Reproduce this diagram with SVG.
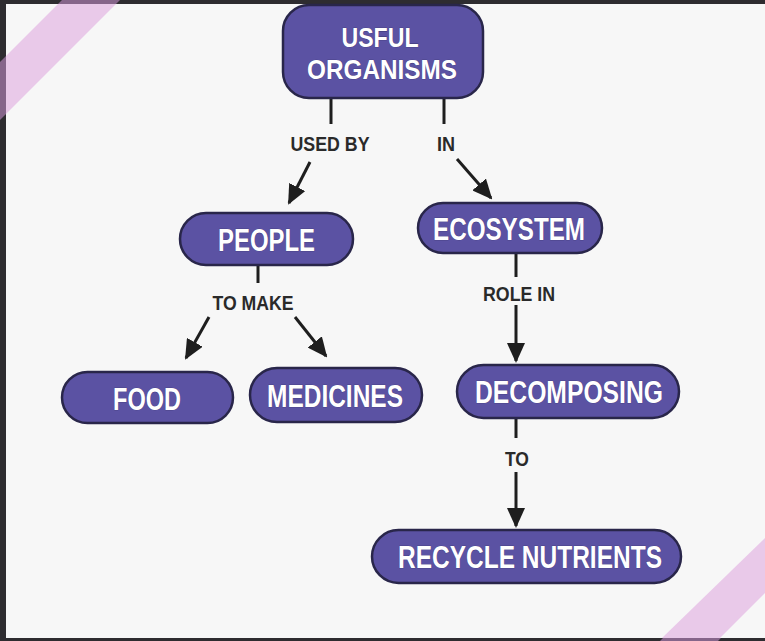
<svg xmlns="http://www.w3.org/2000/svg" width="765" height="641" viewBox="0 0 765 641">
<style>
.node rect{fill:#5b52a3;stroke:#29264a;stroke-width:2.5}
.node text{fill:#ffffff;font-family:"Liberation Sans",Arial,sans-serif;font-weight:bold;font-size:31px;text-anchor:middle;stroke:#3a3470;stroke-width:0.6;paint-order:stroke}
.node text.two{font-size:28px}
.lbl{fill:#2a2a2a;font-family:"Liberation Sans",Arial,sans-serif;font-weight:bold;font-size:21px;text-anchor:middle}
.conn line{stroke:#1e1e1e;stroke-width:3}
</style>
<defs>
<marker id="ah" markerUnits="userSpaceOnUse" markerWidth="20" markerHeight="18" viewBox="0 0 20 18" refX="18" refY="9" orient="auto">
<path d="M0,0 L20,9 L0,18 z" fill="#1e1e1e"/>
</marker>
</defs>
<rect x="0" y="0" width="765" height="641" fill="#2e2c30"/>
<polygon points="62,0 120,0 0,120 0,62" fill="#86658a"/>
<polygon points="765,535 765,593 718,641 660,641" fill="#86658a"/>
<rect x="6" y="4" width="759" height="634" fill="#f7f7f7"/>
<polygon points="58,4 116,4 6,114 6,56" fill="#e9c9e9"/>
<polygon points="765,538 765,593 720,638 662,638" fill="#e9c9e9"/>

<g class="conn">
<line x1="331" y1="98" x2="331" y2="124"/>
<line x1="310" y1="162" x2="289" y2="203" marker-end="url(#ah)"/>
<line x1="444" y1="98" x2="444" y2="124"/>
<line x1="457" y1="159" x2="491" y2="198" marker-end="url(#ah)"/>
<line x1="258" y1="265" x2="258" y2="283"/>
<line x1="209" y1="317" x2="186" y2="358" marker-end="url(#ah)"/>
<line x1="295" y1="317" x2="326" y2="356" marker-end="url(#ah)"/>
<line x1="516" y1="253" x2="516" y2="277"/>
<line x1="516" y1="305" x2="516" y2="361" marker-end="url(#ah)"/>
<line x1="516" y1="418" x2="516" y2="438"/>
<line x1="516" y1="472" x2="516" y2="526" marker-end="url(#ah)"/>
<text class="lbl" x="330" y="151" textLength="79" lengthAdjust="spacingAndGlyphs">USED BY</text>
<text class="lbl" x="446" y="151" textLength="18" lengthAdjust="spacingAndGlyphs">IN</text>
<text class="lbl" x="253" y="310" textLength="81" lengthAdjust="spacingAndGlyphs">TO MAKE</text>
<text class="lbl" x="519" y="301" textLength="72" lengthAdjust="spacingAndGlyphs">ROLE IN</text>
<text class="lbl" x="517" y="466" textLength="24" lengthAdjust="spacingAndGlyphs">TO</text>
</g>

<g id="usful-organisms" class="node">
<rect x="283" y="5" width="200" height="93" rx="26"/>
<text class="two" x="380" y="47" textLength="77" lengthAdjust="spacingAndGlyphs">USFUL</text>
<text class="two" x="382" y="79" textLength="150" lengthAdjust="spacingAndGlyphs">ORGANISMS</text>
</g>
<g id="people" class="node">
<rect x="180" y="213" width="173" height="52" rx="26"/>
<text x="266.5" y="251" textLength="97" lengthAdjust="spacingAndGlyphs">PEOPLE</text>
</g>
<g id="ecosystem" class="node">
<rect x="418" y="203" width="184" height="50" rx="25"/>
<text x="509" y="240" textLength="152" lengthAdjust="spacingAndGlyphs">ECOSYSTEM</text>
</g>
<g id="food" class="node">
<rect x="62" y="372" width="171" height="51" rx="25.5"/>
<text x="147" y="410" textLength="68" lengthAdjust="spacingAndGlyphs">FOOD</text>
</g>
<g id="medicines" class="node">
<rect x="250" y="368" width="172" height="54" rx="27"/>
<text x="335" y="407" textLength="136" lengthAdjust="spacingAndGlyphs">MEDICINES</text>
</g>
<g id="decomposing" class="node">
<rect x="457" y="365" width="222" height="53" rx="26.5"/>
<text x="569" y="403" textLength="188" lengthAdjust="spacingAndGlyphs">DECOMPOSING</text>
</g>
<g id="recycle-nutrients" class="node">
<rect x="372" y="530" width="309" height="53" rx="26.5"/>
<text x="530" y="568" textLength="264" lengthAdjust="spacingAndGlyphs">RECYCLE NUTRIENTS</text>
</g>
</svg>
